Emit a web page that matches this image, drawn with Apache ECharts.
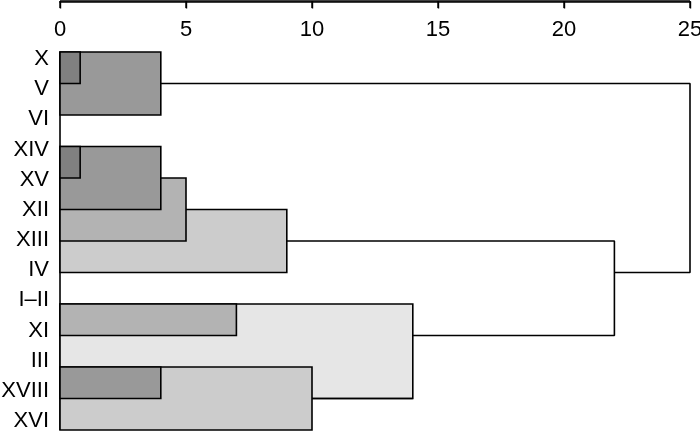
<!DOCTYPE html>
<html>
<head>
<meta charset="utf-8">
<script src="https://cdn.jsdelivr.net/npm/echarts@6/dist/echarts.min.js"></script>
<style>
  html, body { margin: 0; padding: 0; background: #fff; }
  #chart { width: 700px; height: 438px; }
</style>
</head>
<body>
<div id="chart"></div>
<script>
// case labels, top to bottom
var labels = ["X", "V", "VI", "XIV", "XV", "XII", "XIII", "IV", "I–II", "XI", "III", "XVIII", "XVI"];

// cluster boxes: distance reached and the rows (edge index 0..12) they span
var boxDist = [4, 0.8, 9, 5, 4, 0.8, 14, 7, 10, 4];
var boxFrom = [0, 0, 5, 4, 3, 3, 8, 8, 10, 10];
var boxTo = [2, 1, 7, 6, 5, 4, 11, 9, 12, 11];

// joining links (distance, row)
var link1Dist = [4, 25, 25, 22];
var link1Row = [1, 1, 7, 7];
var link2Dist = [9, 22, 22, 14];
var link2Row = [6, 6, 9, 9];
var link3Dist = [10, 14];
var link3Row = [11, 11];

// left edge line
var edgeDist = [0, 0];
var edgeRow = [0, 12];

var xTicks = [0, 5, 10, 15, 20, 25];

// scale bar sits above row 0 (in row units)
var scaleRow = -1.62;
var tickRow = -1.4;

function shade(d) {
  if (d < 1) return "#808080";
  if (d <= 4) return "#999999";
  if (d <= 7) return "#b3b3b3";
  if (d <= 10) return "#cccccc";
  return "#e6e6e6";
}

function pairs(xs, ys) {
  return xs.map(function (x, i) { return [x, ys[i]]; });
}

var font = "Liberation Sans";
var black = { color: "#000", width: 1.6 };
var xMin = xTicks[0];
var xMax = xTicks[xTicks.length - 1];
var chart = echarts.init(document.getElementById("chart"));

var option = {
  animation: false,
  grid: [
    // plot area: boxes and links
    { left: 60, right: 10, top: 52, bottom: 8, outerBoundsMode: "none", containLabel: false },
    // case labels
    { left: 60, right: 10, top: 44, bottom: 2, outerBoundsMode: "none", containLabel: false },
    // thin strip along the top carrying the distance scale
    { left: 60, right: 10, top: 0, height: 1.5, outerBoundsMode: "none", containLabel: false }
  ],
  xAxis: [
    { gridIndex: 0, type: "value", min: xMin, max: xMax, show: false },
    { gridIndex: 1, type: "value", show: false },
    {
      gridIndex: 2,
      type: "value",
      min: xMin,
      max: xMax,
      interval: 5,
      position: "bottom",
      axisLine: { show: true, onZero: false, lineStyle: { color: "#000", width: 1.6 } },
      axisTick: { show: true, length: 7, lineStyle: { color: "#000", width: 1.4 } },
      axisLabel: { margin: 17, color: "#000", fontSize: 22, fontFamily: font },
      splitLine: { show: false }
    }
  ],
  yAxis: [
    {
      gridIndex: 0,
      type: "value",
      min: 0,
      max: 12,
      inverse: true,
      show: false
    },
    {
      gridIndex: 1,
      type: "category",
      data: labels,
      inverse: true,
      axisLine: { show: false },
      axisTick: { show: false },
      axisLabel: { margin: 11, color: "#000", fontSize: 22, fontFamily: font }
    },
    { gridIndex: 2, type: "value", min: 0, max: 1, show: false }
  ],
  series: [
    {
      type: "line",
      data: pairs(edgeDist, edgeRow),
      showSymbol: false,
      lineStyle: black,
      z: 1
    },
    {
      type: "custom",
      xAxisIndex: 0,
      yAxisIndex: 0,
      data: boxDist.map(function (d, i) { return [0, d, boxFrom[i], boxTo[i]]; }),
      renderItem: function (params, api) {
        var p0 = api.coord([api.value(0), api.value(2)]);
        var p1 = api.coord([api.value(1), api.value(3)]);
        return {
          type: "rect",
          shape: { x: p0[0], y: p0[1], width: p1[0] - p0[0], height: p1[1] - p0[1] },
          style: { fill: shade(api.value(1)), stroke: "#000", lineWidth: 1.6 }
        };
      },
      z: 2
    },
    {
      type: "line",
      data: pairs(link1Dist, link1Row),
      showSymbol: false,
      lineStyle: black,
      z: 3
    },
    {
      type: "line",
      data: pairs(link2Dist, link2Row),
      showSymbol: false,
      lineStyle: black,
      z: 3
    },
    {
      type: "line",
      data: pairs(link3Dist, link3Row),
      showSymbol: false,
      lineStyle: black,
      z: 3
    },
    // scale bar line and ticks above the plot
    {
      type: "line",
      data: [[xMin, scaleRow], [xMax, scaleRow]],
      showSymbol: false,
      clip: false,
      lineStyle: black,
      z: 3
    },
    {
      type: "custom",
      xAxisIndex: 0,
      yAxisIndex: 0,
      clip: false,
      data: xTicks.map(function (t) { return [t]; }),
      renderItem: function (params, api) {
        var a = api.coord([api.value(0), scaleRow]);
        var b = api.coord([api.value(0), tickRow]);
        return {
          type: "line",
          shape: { x1: a[0], y1: a[1], x2: b[0], y2: b[1] },
          style: { stroke: "#000", lineWidth: 1.4 }
        };
      },
      z: 3
    }
  ]
};

chart.setOption(option);
</script>
</body>
</html>
